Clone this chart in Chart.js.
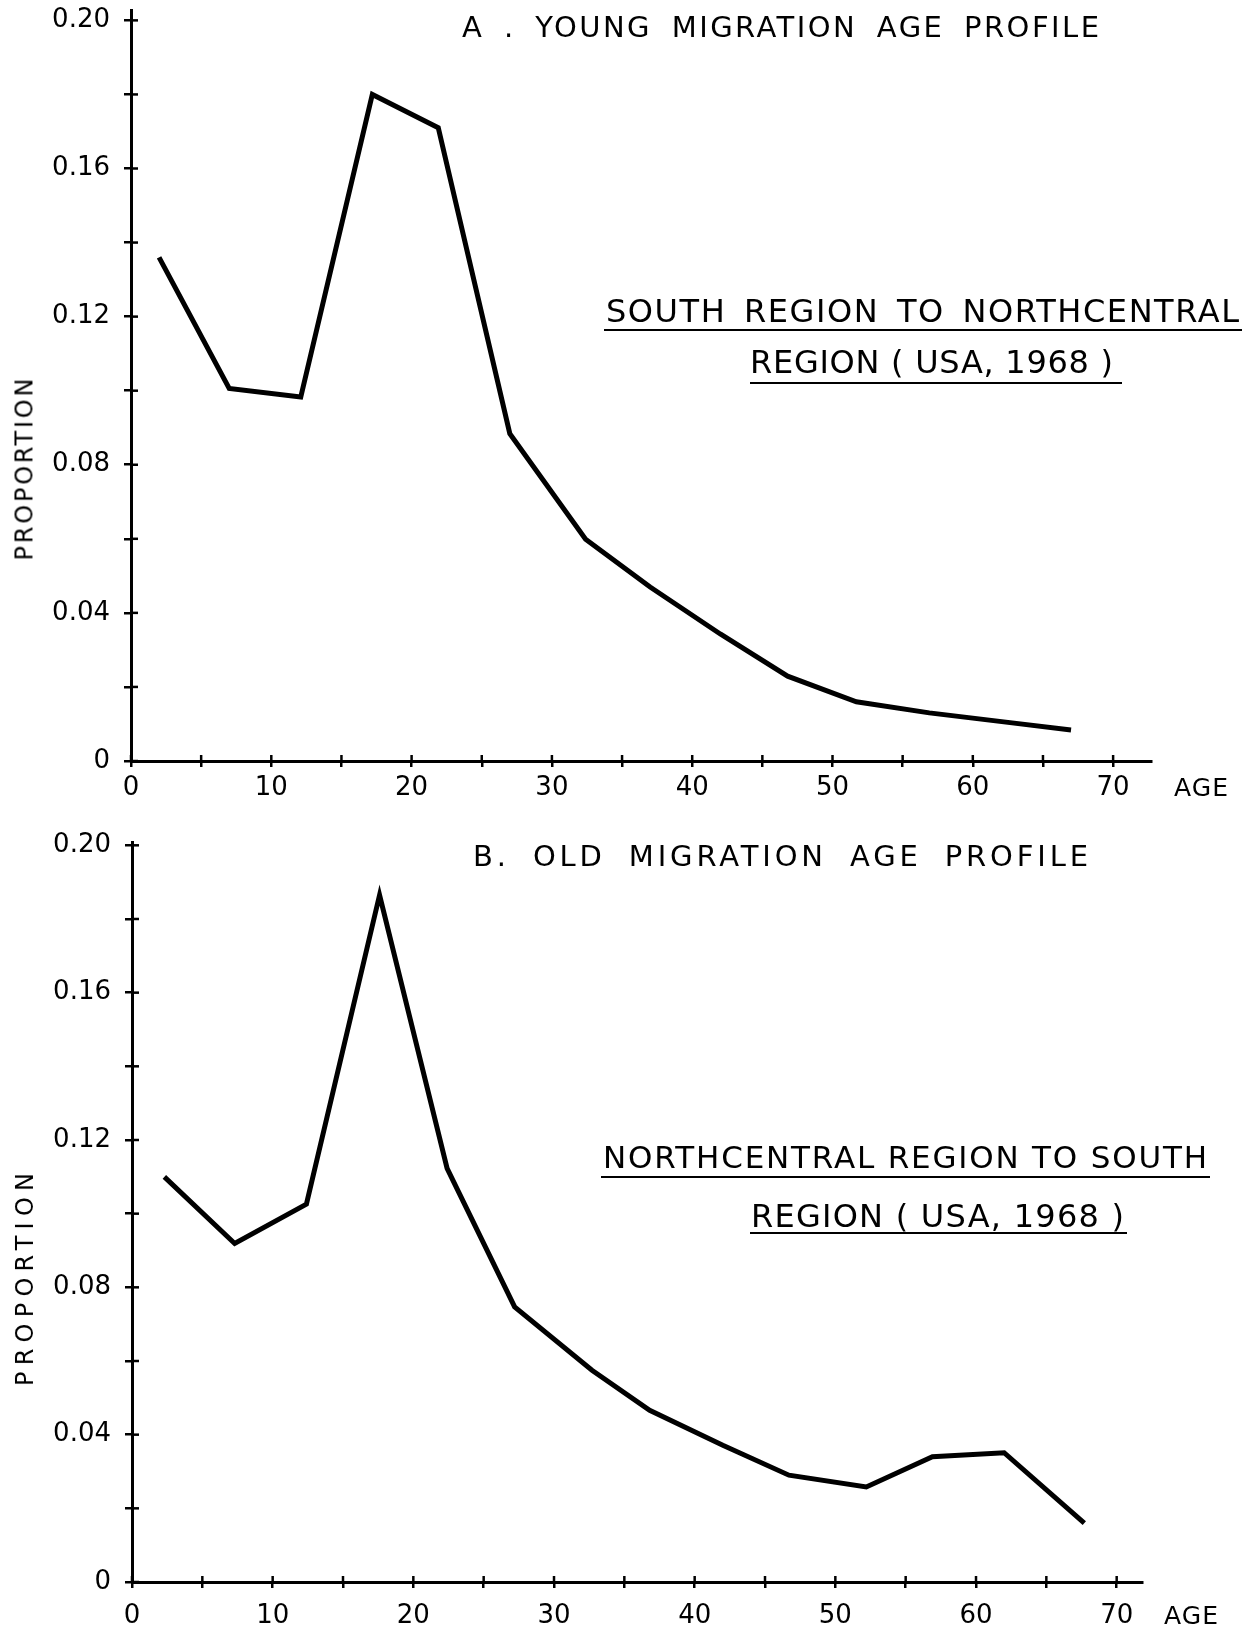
<!DOCTYPE html>
<html>
<head>
<meta charset="utf-8">
<script src="https://cdn.jsdelivr.net/npm/chart.js@4.4.1/dist/chart.umd.min.js"></script>
<style>
  html, body { margin: 0; padding: 0; background: #fff; }
  body { width: 1254px; height: 1629px; position: relative; overflow: hidden; }
  canvas { position: absolute; left: 0; }
  .t { position: absolute; white-space: pre; line-height: 1; color: #000;
       font-family: 'DejaVu Sans', sans-serif; }
  .u { position: absolute; height: 2px; background: #000; }
</style>
</head>
<body>
<canvas id="chartA" width="1254" height="810" style="top:0"></canvas>
<canvas id="chartB" width="1254" height="809" style="top:820px"></canvas>

<script>
// --- data ---
const agesA   = [2.0, 7.0, 12.1, 17.2, 21.9, 27.0, 32.4, 37.0, 42.0, 46.8, 51.7, 56.9, 62.8, 67.0];
const valuesA = [0.136, 0.1006, 0.0983, 0.180, 0.171, 0.0884, 0.0599, 0.047, 0.0343, 0.0229, 0.016, 0.013, 0.0103, 0.0084];

const agesB   = [2.3, 7.3, 12.4, 17.6, 22.4, 27.2, 32.7, 36.8, 42.0, 46.7, 52.2, 56.9, 62.0, 67.7];
const valuesB = [0.110, 0.0919, 0.1026, 0.1865, 0.1123, 0.0747, 0.0575, 0.0466, 0.0371, 0.029, 0.0258, 0.034, 0.0351, 0.016];

const yTickValues = [0, 0.04, 0.08, 0.12, 0.16, 0.20];
const yTickLabels = ['0', '0.04', '0.08', '0.12', '0.16', '0.20'];
const yMinorValues = [0.02, 0.06, 0.10, 0.14, 0.18];
const xTickValues = [0, 10, 20, 30, 40, 50, 60, 70];
const xTickLabels = ['0', '10', '20', '30', '40', '50', '60', '70'];
const xMinorValues = [5, 15, 25, 35, 45, 55, 65];

const FONT = "'DejaVu Sans', sans-serif";

// draws the inner half of the crossing tick marks
const crossTicks = {
  id: 'crossTicks',
  afterDraw(chart) {
    const { ctx, chartArea, scales } = chart;
    ctx.save();
    ctx.strokeStyle = '#000';
    ctx.lineWidth = 2.5;
    scales.y.ticks.forEach(t => {
      const py = scales.y.getPixelForValue(t.value);
      ctx.beginPath(); ctx.moveTo(chartArea.left, py); ctx.lineTo(chartArea.left + 7, py); ctx.stroke();
    });
    scales.x.ticks.forEach(t => {
      const px = scales.x.getPixelForValue(t.value);
      ctx.beginPath(); ctx.moveTo(px, chartArea.bottom); ctx.lineTo(px, chartArea.bottom - 6); ctx.stroke();
    });
    ctx.restore();
  }
};

function labelFor(values, labels, v) {
  const i = values.findIndex(m => Math.abs(m - v) < 1e-6);
  return i >= 0 ? labels[i] : '';
}

function makeChart(id, ages, values, g) {
  const pts = ages.map((a, i) => ({ x: a, y: values[i] }));
  return new Chart(document.getElementById(id), {
    type: 'scatter',
    data: {
      datasets: [{
        data: pts,
        showLine: true,
        borderColor: '#000',
        borderWidth: 5,
        pointRadius: 0,
        tension: 0,
        borderJoinStyle: 'miter',
      }],
    },
    options: {
      responsive: false,
      animation: false,
      layout: { padding: { left: 0, right: g.right, top: g.top, bottom: 0 } },
      plugins: { legend: { display: false }, tooltip: { enabled: false } },
      scales: {
        x: {
          type: 'linear', min: 0, max: g.xMax,
          afterBuildTicks: s => { s.ticks = [...xTickValues, ...xMinorValues].sort((a, b) => a - b).map(v => ({ value: v })); },
          afterFit: s => { s.height = g.xHeight; s.paddingLeft = 0; s.paddingRight = 0; },
          border: { display: true, color: '#000', width: 3 },
          grid: { drawOnChartArea: false, drawTicks: true, tickLength: 6, color: '#000', lineWidth: 2.5 },
          ticks: {
            autoSkip: false, maxRotation: 0, padding: g.xPad, color: '#000',
            font: { family: FONT, size: 26 },
            callback: v => labelFor(xTickValues, xTickLabels, v),
          },
        },
        y: {
          type: 'linear', min: 0, max: g.yMax,
          afterBuildTicks: s => { s.ticks = [...yTickValues, ...yMinorValues].sort((a, b) => a - b).map(v => ({ value: v })); },
          afterFit: s => { s.width = g.left; s.paddingTop = 0; s.paddingBottom = 0; },
          border: { display: true, color: '#000', width: 3 },
          grid: { drawOnChartArea: false, drawTicks: true, tickLength: 7, color: '#000', lineWidth: 2.5 },
          ticks: {
            autoSkip: false, padding: 14, color: '#000',
            font: { family: FONT, size: 26 },
            callback: v => labelFor(yTickValues, yTickLabels, v),
          },
        },
      },
    },
    plugins: [crossTicks],
  });
}

makeChart('chartA', agesA, valuesA, { left: 131, right: 103, top: 10, xMax: 72.7, yMax: 0.2028, xHeight: 49, xPad: 6 });
makeChart('chartB', agesB, valuesB, { left: 132, right: 112, top: 22, xMax: 71.8, yMax: 0.2009, xHeight: 47, xPad: 13 });

// --- text around the plots ---
const texts = [
  { text: 'A . YOUNG MIGRATION AGE PROFILE', x: 462, w: 637, cy: 27, fs: 29, ws: 8 },
  { text: 'SOUTH REGION TO NORTHCENTRAL', x: 606, w: 633, cy: 310, fs: 32, ws: 6 },
  { text: 'REGION ( USA, 1968 )', x: 750, w: 363, cy: 361, fs: 32, ws: 0 },
  { text: 'AGE', x: 1174, w: 54, cy: 787, fs: 25, ws: 0 },
  { text: 'B. OLD MIGRATION AGE PROFILE', x: 473, w: 615, cy: 856, fs: 29, ws: 10 },
  { text: 'NORTHCENTRAL REGION TO SOUTH', x: 603, w: 604, cy: 1157, fs: 31, ws: 0 },
  { text: 'REGION ( USA, 1968 )', x: 751, w: 373, cy: 1215, fs: 32, ws: 0 },
  { text: 'AGE', x: 1164, w: 54, cy: 1615, fs: 25, ws: 0 },
];
const rotated = [
  { text: 'PROPORTION', cx: 24, cy: 470, w: 182, fs: 24 },
  { text: 'PROPORTION', cx: 24, cy: 1280, w: 213, fs: 24 },
];
const underlines = [
  { x1: 604, x2: 1242, y: 330 },
  { x1: 750, x2: 1122, y: 383 },
  { x1: 601, x2: 1210, y: 1177 },
  { x1: 750, x2: 1127, y: 1233 },
];

function fitSpacing(el, target) {
  el.style.letterSpacing = '0px';
  const w = el.getBoundingClientRect().width;
  const n = el.textContent.length;
  const ls = (target - w) / (n - 1);
  el.style.letterSpacing = ls + 'px';
  return ls;
}

texts.forEach(t => {
  const el = document.createElement('div');
  el.className = 't';
  el.textContent = t.text;
  el.style.fontSize = t.fs + 'px';
  el.style.wordSpacing = t.ws + 'px';
  el.style.left = t.x + 'px';
  el.style.top = (t.cy - 0.48 * t.fs) + 'px';
  document.body.appendChild(el);
  fitSpacing(el, t.w);
});

rotated.forEach(t => {
  const el = document.createElement('div');
  el.className = 't';
  el.textContent = t.text;
  el.style.fontSize = t.fs + 'px';
  document.body.appendChild(el);
  const ls = fitSpacing(el, t.w);
  const r = el.getBoundingClientRect();
  el.style.left = (t.cx - (r.width - ls) / 2) + 'px';
  el.style.top = (t.cy - 0.48 * t.fs) + 'px';
  el.style.transformOrigin = ((r.width - ls) / 2) + 'px ' + (0.48 * t.fs) + 'px';
  el.style.transform = 'rotate(-90deg)';
});

underlines.forEach(u => {
  const el = document.createElement('div');
  el.className = 'u';
  el.style.left = u.x1 + 'px';
  el.style.width = (u.x2 - u.x1) + 'px';
  el.style.top = (u.y - 1) + 'px';
  document.body.appendChild(el);
});
</script>
</body>
</html>
